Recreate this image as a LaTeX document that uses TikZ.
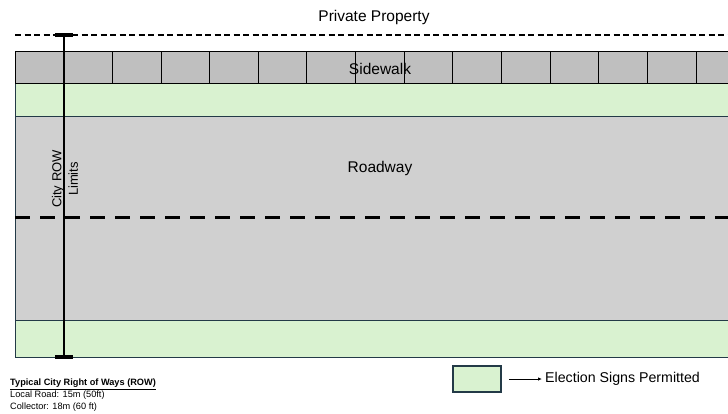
\documentclass[tikz,border=0pt]{standalone}
\usepackage{fontspec}
\setmainfont{Liberation Sans}
\usetikzlibrary{arrows.meta}
\definecolor{walk}{HTML}{BFBFBF}
\definecolor{grass}{HTML}{D9F2D0}
\definecolor{road}{HTML}{D0D0D0}
\definecolor{edgec}{HTML}{233A47}
\tikzset{
  tile/.style={draw=black, line width=0.9pt},
  stripedge/.style={draw=edgec, line width=1pt},
  centreline/.style={line width=3pt, dash pattern=on 15pt off 10pt},
  propline/.style={line width=1.5pt, dash pattern=on 6pt off 3.5pt},
  rowline/.style={line width=2pt},
  rowcap/.style={line width=4pt},
  lbl/.style={font=\fontsize{15.5}{18}\selectfont, inner sep=1pt},
  legendbox/.style={draw=edgec, line width=1.5pt, fill=grass, minimum width=48pt, minimum height=26pt, inner sep=0pt},
}
\begin{document}
\begin{tikzpicture}[x=1pt,y=-1pt]
\useasboundingbox (0,0) rectangle (728,413);
\begin{scope}
\clip (0,0) rectangle (728,413);
% sidewalk
\fill[walk] (15,51) rectangle (740,83);
\foreach \i in {0,...,15} \draw[tile] ({15+48.65*\i},51) -- ++(0,32);
\draw[tile] (15,51) -- (740,51);
\draw[tile] (15,83) -- (740,83);
% green strips and roadway
\fill[grass] (15,83.5) rectangle (740,116);
\fill[road] (15,116) rectangle (740,320);
\fill[grass] (15,320) rectangle (740,357);
\draw[stripedge] (15,116) -- (740,116);
\draw[stripedge] (15,320) -- (740,320);
\draw[stripedge] (15,357) -- (740,357);
\draw[stripedge] (15,83.5) -- (15,357);
% centre line
\draw[centreline] (15,217) -- (740,217);
% property line
\draw[propline] (15,35) -- (740,35);
\end{scope}
% labels
\node[lbl] (prop) at (374,17) {Private Property};
\node[lbl] (walklbl) at (380,69) {Sidewalk};
\node[lbl] (roadlbl) at (380,168) {Roadway};
% ROW limits
\coordinate (rowtop) at (64,35);
\coordinate (rowbot) at (64,357);
\draw[rowline] (rowtop) -- (rowbot);
\draw[rowcap] ([xshift=-9pt]rowtop) -- ([xshift=9pt]rowtop);
\draw[rowcap] ([xshift=-9pt]rowbot) -- ([xshift=9pt]rowbot);
\node[lbl, rotate=90, align=center, font=\fontsize{13}{16.5}\selectfont] (rowlbl) at (65,179) {City ROW\\Limits};
% notes
\node[anchor=north west, align=left, inner sep=0pt, font=\fontsize{9.2}{12}\selectfont] (notes) at (10,379)
  {\textbf{\underline{Typical City Right of Ways (ROW)}}\\Local Road: 15m (50ft)\\Collector: 18m (60 ft)};
% legend
\node[legendbox] (legbox) at (477,379) {};
\node[lbl, anchor=west, font=\fontsize{14.2}{17}\selectfont] (legtext) at (544,379) {Election Signs Permitted};
\draw[line width=1pt, -{Latex[length=4pt,width=3.5pt]}, shorten <=7pt, shorten >=2pt] (legbox.east) -- (legtext.west);
\end{tikzpicture}
\end{document}
